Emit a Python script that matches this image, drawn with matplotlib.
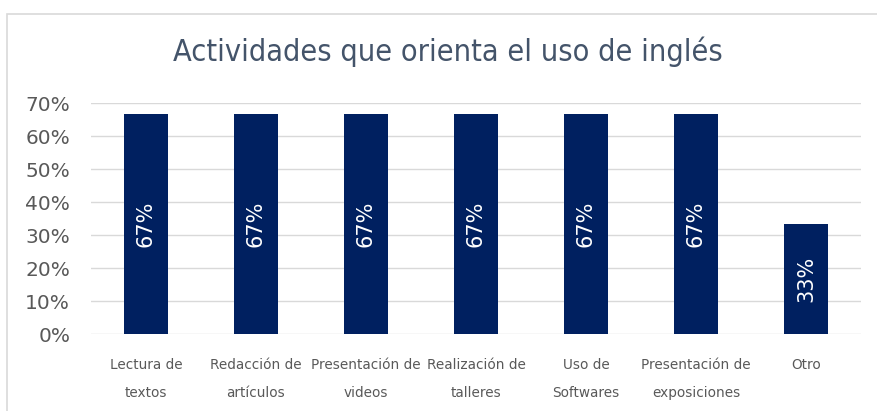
import matplotlib.pyplot as plt
from matplotlib.patches import Rectangle
from matplotlib.ticker import FuncFormatter

categories = ['Lectura de\ntextos', 'Redacción de\nartículos', 'Presentación de\nvideos',
              'Realización de\ntalleres', 'Uso de\nSoftwares', 'Presentación de\nexposiciones', 'Otro']
values = [66.7, 66.7, 66.7, 66.7, 66.7, 66.7, 33.3]
title = 'Actividades que orienta el uso de inglés'

fig = plt.figure(figsize=(8.78, 4.11), dpi=100)
ax = fig.add_axes([0.1036, 0.1873, 0.877, 0.5616])

x = range(len(categories))
bars = ax.bar(x, values, width=0.4, color='#002060', zorder=3)

for b, v in zip(bars, values):
    ax.text(b.get_x() + b.get_width() / 2, v / 2, f'{v:.0f}%', rotation=90,
            ha='center', va='center', color='white', fontsize=15)

ax.set_ylim(0, 70)
ax.set_xlim(-0.5, len(categories) - 0.5)
ax.set_yticks(range(0, 71, 10))
ax.yaxis.set_major_formatter(FuncFormatter(lambda v, p: f'{v:.0f}%'))
ax.set_xticks(list(x))
ax.set_xticklabels(categories, linespacing=2.3)
ax.tick_params(axis='y', labelsize=14.5, labelcolor='#595959', length=0, pad=15)
ax.tick_params(axis='x', labelsize=9.8, labelcolor='#595959', length=0, pad=17)
ax.grid(axis='y', color='#D9D9D9', linewidth=1, zorder=0)
for s in ax.spines.values():
    s.set_visible(False)

fig.text(0.51, 0.873, title, ha='center', va='center', fontsize=22,
         color='#44546A', family='DejaVu Sans', stretch='condensed')

fig.patches.append(Rectangle((7 / 878, -0.1), 1.2, (1 - 14 / 411) + 0.1,
                             transform=fig.transFigure, fill=False,
                             edgecolor='#D9D9D9', linewidth=1.2))

fig.savefig('out.png', dpi=100)
